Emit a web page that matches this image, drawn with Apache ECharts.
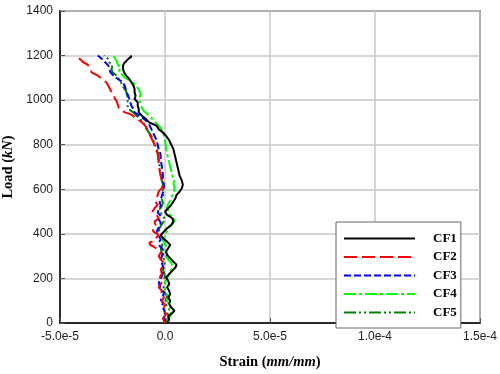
<!DOCTYPE html>
<html><head><meta charset="utf-8">
<script src="https://cdn.jsdelivr.net/npm/echarts@6/dist/echarts.min.js"></script>
<style>html,body{margin:0;padding:0;background:#fff}#c{width:500px;height:374px}</style>
</head><body><div id="c"></div>
<script>
// strain in micro-strain (x 1e-6), load in kN
const seriesNames = ['CF1','CF2','CF3','CF4','CF5'];
const xTicks = [-50, 0, 50, 100, 150];
const yTicks = [0, 200, 400, 600, 800, 1000, 1200, 1400];

const cf1Load   = [0,15,30,45,55,70,85,100,115,130,145,160,175,190,205,220,235,250,262,275,290,305,320,335,350,365,380,395,410,425,440,455,470,485,500,515,530,545,560,575,590,605,620,640,660,680,700,720,740,760,780,800,820,840,855,870,885,900,915,930,945,960,975,990,1005,1020,1035,1050,1065,1080,1095,1110,1125,1140,1155,1165,1175,1185,1195,1200];
const cf1Strain = [1,2,1.5,3.5,4.5,3,2,2.5,1.5,2.5,2,1,2,1.5,0.5,2,3.5,5,5.5,4,2.5,1,0.5,1.5,2.5,1,-1,-2,-0.5,1,3,4,3.5,1,0,1.5,3,4,5,5.5,7,8,8.5,8,7,6.5,6,5.5,5,4.5,4,3,2,0.5,-1,-3,-4,-7.5,-9,-11,-12.5,-12.5,-13,-13,-14.5,-14,-14.5,-14.5,-15,-16,-17,-18.5,-19.5,-20,-20,-19.5,-18.5,-17.5,-16,-16.5];

const cf2Load   = [0,20,40,60,80,100,115,130,145,160,175,190,205,220,240,255,270,285,300,315,330,340,350,360,370,385,395,410,425,440,455,470,485,500,515,530,545,560,575,590,605,620,640,660,680,700,720,740,760,780,800,820,840,860,880,900,920,935,945,955,965,980,995,1010,1025,1045,1065,1080,1095,1110,1125,1140,1150,1160,1170,1180,1188];
const cf2Strain = [0,-1,0.5,-1,0,-1.5,-0.5,-2,-1.5,-3,-2,-1,-2.5,-1.5,-2,-1,-0.5,-2,-3,-2,-3.5,-5,-7,-7.5,-5,-4,-3,-5.5,-6,-4.5,-5,-3,-4,-6,-5,-3.5,-4.5,-4,-3.5,-3,-1.5,-1,-1.5,-2,-2.5,-2.8,-3,-3.3,-3.5,-4.5,-5,-6,-7,-8,-9,-11,-14,-16,-19,-21,-22,-22.5,-23,-24,-24.5,-26,-27,-28,-30,-32,-35,-35.5,-36,-37,-39,-40,-41];

const cf3Load   = [0,15,30,45,60,75,90,105,120,135,150,165,180,195,210,225,240,255,270,285,300,315,330,345,360,375,390,405,420,435,450,465,480,495,510,525,540,555,570,585,600,620,640,660,680,700,720,740,760,780,800,820,840,860,880,900,915,930,945,960,975,990,1005,1020,1040,1060,1080,1095,1110,1125,1140,1155,1170,1185,1200];
const cf3Strain = [-0.5,0,-1,0,-0.5,-1.5,-1,-2,-1,-0.5,-1.5,-2.5,-3,-2,-1.5,-1,-0.5,-1,-1.5,-2,-1.5,-0.5,-1,-2.5,-3,-2,-3,-4,-3.5,-2.5,-2,-3,-2,-3.5,-3,-2,-2.5,-2,-1.5,-1,-0.5,-0.5,-1,-1,-1.2,-1.5,-1.8,-2,-2.2,-3,-3.5,-4,-5,-6,-7,-8,-10,-12,-14.5,-15,-16,-16.5,-17,-17.5,-18.5,-19,-20,-22.5,-24.5,-26,-26.5,-27,-28.5,-30,-32];

const cf4Load   = [0,15,30,45,60,75,90,105,120,135,150,165,180,195,210,225,240,255,270,285,300,315,330,345,360,375,390,405,420,435,450,462,475,490,505,520,535,550,565,580,595,610,625,640,660,680,700,720,740,760,780,800,820,840,860,875,890,905,920,935,950,965,980,995,1010,1025,1040,1055,1070,1085,1100,1115,1130,1145,1160,1175,1190,1200];
const cf4Strain = [1,1.5,2.5,3,2,2.5,1.5,1,1.5,0.5,0,0.5,0,0.5,1.5,2,3,3.5,3,1.5,0.5,0.5,0,0.5,-0.5,-1,0,0.5,1.5,2.5,4,4.5,3.5,2,1.5,1,1.5,2.5,3,4,4.5,4.5,4,4.5,3.5,3,2.5,2,1.5,1,0.5,0.3,0,-0.5,-1,-2,-3.5,-5,-6.5,-8,-10,-11,-11.5,-12,-12.3,-11.5,-12,-13,-14,-16,-19,-20.5,-22,-21,-22.5,-23,-24,-25];

const cf5Load   = [0,15,30,45,60,75,90,105,120,135,150,165,180,195,210,225,240,255,270,285,300,315,330,345,360,375,390,405,420,435,450,465,480,495,510,525,540,555,570,585,600,620,640,660,680,700,720,740,760,780,800,820,840,860,880,900,915,930,945,960,975,990,1005,1020,1040,1060,1080,1095,1110,1125,1140,1155,1170,1185,1200];
const cf5Strain = [0,1,2,1,2,1,0,0.5,1,0,-1,-0.5,0,-0.5,0,-0.5,-1,-1,0,-0.5,-1,-1.5,-2,-1.5,-1,-1,-2,-2.5,-3,-2,-1,0,-1,-2,-2.5,-1.5,-1,-1.5,-1,-1,-1,-1,-1.5,-2,-2.3,-2.6,-2.8,-3,-3.3,-4,-4.8,-5.5,-6.5,-8,-9.5,-10,-12,-13.5,-15,-17.5,-17.8,-18,-17.5,-18,-18.5,-20,-21,-22,-23,-25,-25.5,-25,-26.5,-27,-29];

const loads = [cf1Load, cf2Load, cf3Load, cf4Load, cf5Load];
const strains = [cf1Strain, cf2Strain, cf3Strain, cf4Strain, cf5Strain];
const colors = ['#000000', '#ff0000', '#0000ff', '#00ff00', '#008000'];
const dashes = ['solid', [13,5], [7,3], [12,3,3,3], [12,3,2,3,2,3]];

const chart = echarts.init(document.getElementById('c'), null, {renderer: 'canvas'});
const series = seriesNames.map((n, i) => ({
  name: n, type: 'line', symbol: 'none', showSymbol: false,
  data: loads[i].map((l, j) => [strains[i][j], l]),
  lineStyle: {color: colors[i], width: 2, type: dashes[i]},
  itemStyle: {color: colors[i]},
  z: 10 - i, animation: false
}));

const tickFont = {fontFamily: 'Liberation Sans, Arial', fontSize: 12, color: '#222'};
const nameRich = {
  b: {fontFamily: 'Liberation Serif', fontWeight: 'bold', fontSize: 14.5, color: '#000'},
  i: {fontFamily: 'Liberation Serif', fontWeight: 'bold', fontStyle: 'italic', fontSize: 14.5, color: '#000'}};
chart.setOption({
  animation: false,
  backgroundColor: '#fff',
  grid: {left: 60, top: 11, right: 20, bottom: 51, containLabel: false, outerBoundsMode: 'none',
         show: true, borderColor: '#333', borderWidth: 1.5},
  xAxis: {
    type: 'value', min: xTicks[0], max: xTicks[xTicks.length-1], interval: 50,
    name: '{b|Strain (}{i|mm/mm}{b|)}', nameLocation: 'middle', nameGap: 32,
    nameTextStyle: {rich: nameRich},
    axisLine: {show: true, onZero: false, lineStyle: {color: '#000', width: 1.5}},
    axisTick: {show: true, inside: true, length: 5, lineStyle: {color: '#555'}},
    axisLabel: Object.assign({margin: 8, hideOverlap: false, formatter: v => v === 0 ? '0.0' : (v * 1e-6).toExponential(1)}, tickFont),
    splitLine: {show: true, lineStyle: {color: '#c8c8c8', width: 1.5}}
  },
  yAxis: {
    type: 'value', min: yTicks[0], max: yTicks[yTicks.length-1], interval: 200,
    name: '{b|Load (}{i|kN}{b|)}', nameLocation: 'middle', nameGap: 43, nameRotate: 90,
    nameTextStyle: {rich: nameRich},
    axisLine: {show: true, onZero: false, lineStyle: {color: '#000', width: 1.5}},
    axisTick: {show: true, inside: true, length: 5, lineStyle: {color: '#555'}},
    axisLabel: Object.assign({margin: 7, formatter: v => String(v)}, tickFont),
    splitLine: {show: true, lineStyle: {color: '#c8c8c8', width: 1.5}}
  },
  legend: {
    data: seriesNames, orient: 'vertical', left: 336, top: 222,
    itemWidth: 71, itemHeight: 10, itemGap: 5.5,
    padding: [10, 4, 9, 7],
    backgroundColor: '#fff', borderColor: '#666', borderWidth: 1,
    itemStyle: {opacity: 0},
    textStyle: {fontFamily: 'Liberation Serif', fontWeight: 'bold', fontSize: 13, color: '#000', padding: [0, 0, 0, 13]}
  },
  series: series
});
</script></body></html>
